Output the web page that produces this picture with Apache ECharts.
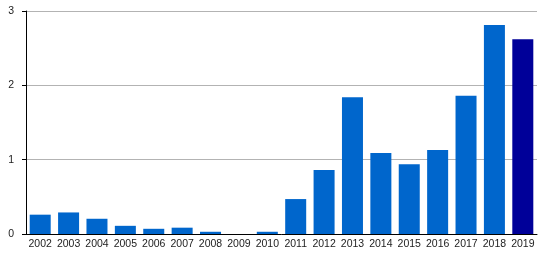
<!DOCTYPE html>
<html><head><meta charset="utf-8">
<script src="https://cdn.jsdelivr.net/npm/echarts@6/dist/echarts.min.js"></script>
<style>html,body{margin:0;padding:0;background:#fff}#c{width:545px;height:256px}</style>
</head><body><div id="c"></div>
<script>
const categories = ['2002','2003','2004','2005','2006','2007','2008','2009','2010','2011','2012','2013','2014','2015','2016','2017','2018','2019'];
const values = [0.26,0.29,0.205,0.11,0.07,0.085,0.03,0,0.03,0.47,0.86,1.84,1.09,0.94,1.13,1.86,2.81,2.62];
const yTicks = [0,1,2,3];
const highlightIndex = 17;

const chart = echarts.init(document.getElementById('c'), null, {renderer:'canvas'});
chart.setOption({
  animation:false,
  grid:{left:26,right:8,top:11,bottom:22,containLabel:false},
  xAxis:{type:'category',data:categories,
    axisLine:{lineStyle:{color:'#000',width:1}},
    axisTick:{show:false},
    axisLabel:{color:'#222',fontFamily:'Liberation Sans, Arial',fontSize:10.5,margin:5,interval:0}},
  yAxis:{type:'value',min:yTicks[0],max:yTicks[yTicks.length-1],interval:1,
    axisLine:{show:true,lineStyle:{color:'#000',width:1}},
    axisTick:{show:true,length:4,lineStyle:{color:'#000'}},
    splitLine:{lineStyle:{color:'#b3b3b3',width:1}},
    axisLabel:{color:'#222',fontFamily:'Liberation Sans, Arial',fontSize:10.5,margin:12}},
  series:[{type:'bar',barCategoryGap:'26%',
    data:values.map((v,i)=>({value:v,itemStyle:{color:i===highlightIndex?'#000099':'#0066cc'}}))}]
});
</script></body></html>
